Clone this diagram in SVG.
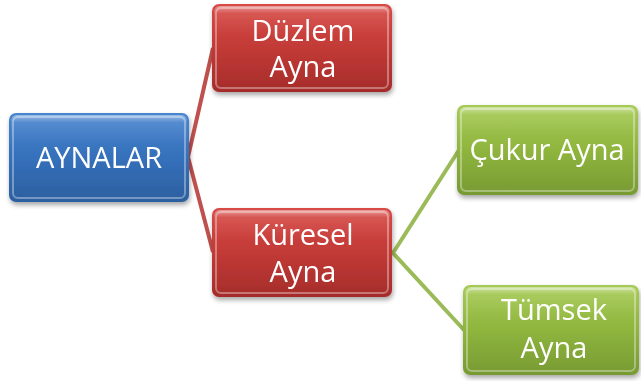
<svg xmlns="http://www.w3.org/2000/svg" width="641" height="381" viewBox="0 0 641 381">
<defs>
<linearGradient id="gBlue" x1="0" y1="0" x2="0" y2="1"><stop offset="0" stop-color="#4a86d0"/><stop offset="0.5" stop-color="#3570bb"/><stop offset="1" stop-color="#2c5f9f"/></linearGradient>
<linearGradient id="gRed" x1="0" y1="0" x2="0" y2="1"><stop offset="0" stop-color="#d84b47"/><stop offset="0.5" stop-color="#c23a36"/><stop offset="1" stop-color="#a52c2a"/></linearGradient>
<linearGradient id="gGreen" x1="0" y1="0" x2="0" y2="1"><stop offset="0" stop-color="#a6cb55"/><stop offset="0.5" stop-color="#8fb53e"/><stop offset="1" stop-color="#779a32"/></linearGradient>
<linearGradient id="gloss" x1="0" y1="0" x2="0" y2="1"><stop offset="0" stop-color="#fff" stop-opacity="0.45"/><stop offset="0.25" stop-color="#fff" stop-opacity="0.08"/><stop offset="1" stop-color="#fff" stop-opacity="0"/></linearGradient>
<filter id="sh" x="-10%" y="-10%" width="125%" height="130%"><feGaussianBlur in="SourceAlpha" stdDeviation="2.5"/><feOffset dx="1" dy="3"/><feComponentTransfer><feFuncA type="linear" slope="0.35"/></feComponentTransfer><feMerge><feMergeNode/><feMergeNode in="SourceGraphic"/></feMerge></filter>
</defs>
<style>
.box{filter:url(#sh)}
.hl{fill:none;stroke:#fff;stroke-opacity:0.35;stroke-width:2}
.gl{fill:url(#gloss)}
.t{font-family:"Open Sans","Noto Sans",sans-serif;font-size:29px;fill:#fff;text-anchor:middle}
.cr{stroke:#c0504d;stroke-width:4;fill:none;stroke-linejoin:miter}
.cg{stroke:#9bbb59;stroke-width:4;fill:none;stroke-linejoin:miter}
</style>
<g id="connectors">
<polyline class="cr" points="213,48 188,157 213,252"/>
<polyline class="cg" points="459,150 393,253 464,330"/>
</g>
<g id="aynalar" class="box">
<rect x="9" y="113" width="180" height="89" rx="7" fill="url(#gBlue)"/>
<rect x="13" y="117" width="172" height="81" rx="5" class="hl"/>
<rect x="11" y="115" width="176" height="30" rx="6" class="gl"/>
<text class="t" x="99" y="168">AYNALAR</text>
</g>
<g id="duzlem" class="box">
<rect x="212" y="4" width="180" height="88" rx="7" fill="url(#gRed)"/>
<rect x="216" y="8" width="172" height="80" rx="5" class="hl"/>
<rect x="214" y="6" width="176" height="30" rx="6" class="gl"/>
<text class="t" x="303" y="41">Düzlem</text>
<text class="t" x="303" y="77">Ayna</text>
</g>
<g id="kuresel" class="box">
<rect x="212" y="208" width="180" height="89" rx="7" fill="url(#gRed)"/>
<rect x="216" y="212" width="172" height="81" rx="5" class="hl"/>
<rect x="214" y="210" width="176" height="30" rx="6" class="gl"/>
<text class="t" x="303" y="245">Küresel</text>
<text class="t" x="303" y="282">Ayna</text>
</g>
<g id="cukur" class="box">
<rect x="457" y="105" width="181" height="90" rx="7" fill="url(#gGreen)"/>
<rect x="461" y="109" width="173" height="82" rx="5" class="hl"/>
<rect x="459" y="107" width="177" height="30" rx="6" class="gl"/>
<text class="t" x="547" y="160">Çukur Ayna</text>
</g>
<g id="tumsek" class="box">
<rect x="463" y="285" width="176" height="90" rx="7" fill="url(#gGreen)"/>
<rect x="467" y="289" width="168" height="82" rx="5" class="hl"/>
<rect x="465" y="287" width="172" height="30" rx="6" class="gl"/>
<text class="t" x="554" y="320">Tümsek</text>
<text class="t" x="554" y="358">Ayna</text>
</g>
</svg>
